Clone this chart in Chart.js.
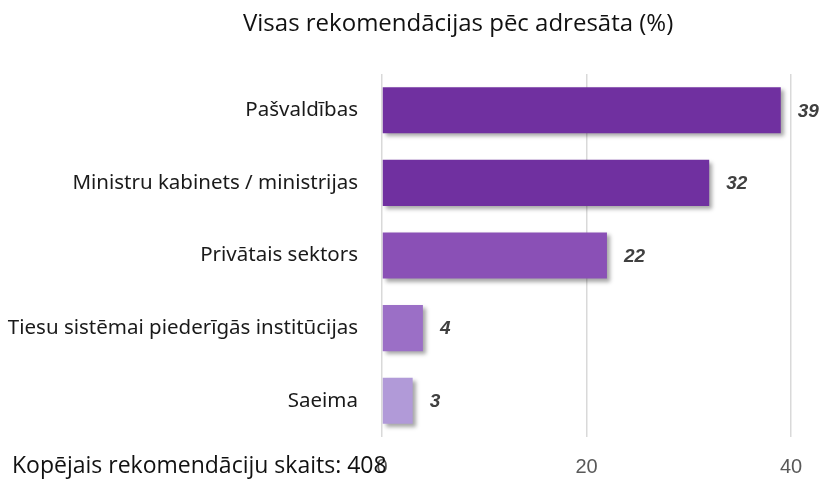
<!DOCTYPE html>
<html>
<head>
<meta charset="utf-8">
<script src="https://cdn.jsdelivr.net/npm/chart.js@4/dist/chart.umd.min.js"></script>
<style>
    html, body { margin: 0; padding: 0; background: #fff; }
    #wrap { position: relative; width: 822px; height: 488px; }
    #title { position: absolute; left: 243px; top: 10px; line-height: 1; font-family: 'Open Sans', sans-serif; font-size: 24px; color: #111; white-space: nowrap; }
    #note { position: absolute; left: 12px; top: 453px; line-height: 1; font-family: 'Open Sans', sans-serif; font-size: 23px; color: #111; white-space: nowrap; }
</style>
</head>
<body>
<div id="wrap">
    <canvas id="chart" width="822" height="488"></canvas>
    <div id="title">Visas rekomendācijas pēc adresāta (%)</div>
    <div id="note">Kopējais rekomendāciju skaits: 408</div>
</div>
<script>
const categories = ['Pašvaldības', 'Ministru kabinets / ministrijas', 'Privātais sektors', 'Tiesu sistēmai piederīgās institūcijas', 'Saeima'];
const values = [39, 32, 22, 4, 3];
const barColors = ['#7030a0', '#7030a0', '#8a50b6', '#9b6fc6', '#b19ad8'];
const xTicks = [0, 20, 40];

// soft drop shadow under the bars
const barShadow = {
    id: 'barShadow',
    beforeDatasetsDraw(chart) {
        const ctx = chart.ctx;
        ctx.save();
        ctx.shadowColor = 'rgba(0, 0, 0, 0.35)';
        ctx.shadowBlur = 4;
        ctx.shadowOffsetX = 3;
        ctx.shadowOffsetY = 3;
    },
    afterDatasetsDraw(chart) {
        chart.ctx.restore();
    }
};

// value labels right of each bar
const valueLabels = {
    id: 'valueLabels',
    afterDatasetsDraw(chart) {
        const ctx = chart.ctx;
        const meta = chart.getDatasetMeta(0);
        ctx.save();
        ctx.font = 'italic bold 19px "Liberation Sans", Arial, sans-serif';
        ctx.fillStyle = '#404040';
        ctx.textAlign = 'left';
        ctx.textBaseline = 'middle';
        meta.data.forEach((bar, i) => {
            ctx.fillText(String(values[i]), bar.x + 17, bar.y + 1);
        });
        ctx.restore();
    }
};

new Chart(document.getElementById('chart'), {
    type: 'bar',
    data: {
        labels: categories,
        datasets: [{
            data: values,
            backgroundColor: barColors,
            borderWidth: 0,
            categoryPercentage: 1,
            barPercentage: 0.635
        }]
    },
    options: {
        indexAxis: 'y',
        responsive: false,
        animation: false,
        layout: { padding: { top: 74, right: 31, bottom: 10, left: 0 } },
        plugins: {
            legend: { display: false },
            tooltip: { enabled: false }
        },
        scales: {
            x: {
                min: 0,
                max: 40,
                afterBuildTicks: scale => { scale.ticks = xTicks.map(v => ({ value: v })); },
                afterFit: scale => { scale.height = 41; },
                grid: { color: '#d9d9d9', lineWidth: 1.5, drawTicks: false },
                border: { display: false },
                ticks: {
                    color: '#595959',
                    padding: 18,
                    font: { family: '"Liberation Sans", Arial, sans-serif', size: 20 }
                }
            },
            y: {
                afterFit: scale => { scale.width = 382; },
                grid: { display: false, drawTicks: false },
                border: { display: false },
                ticks: {
                    color: '#1a1a1a',
                    padding: 24,
                    font: { family: '"Noto Sans", sans-serif', size: 20.5 }
                }
            }
        }
    },
    plugins: [barShadow, valueLabels]
});
</script>
</body>
</html>
